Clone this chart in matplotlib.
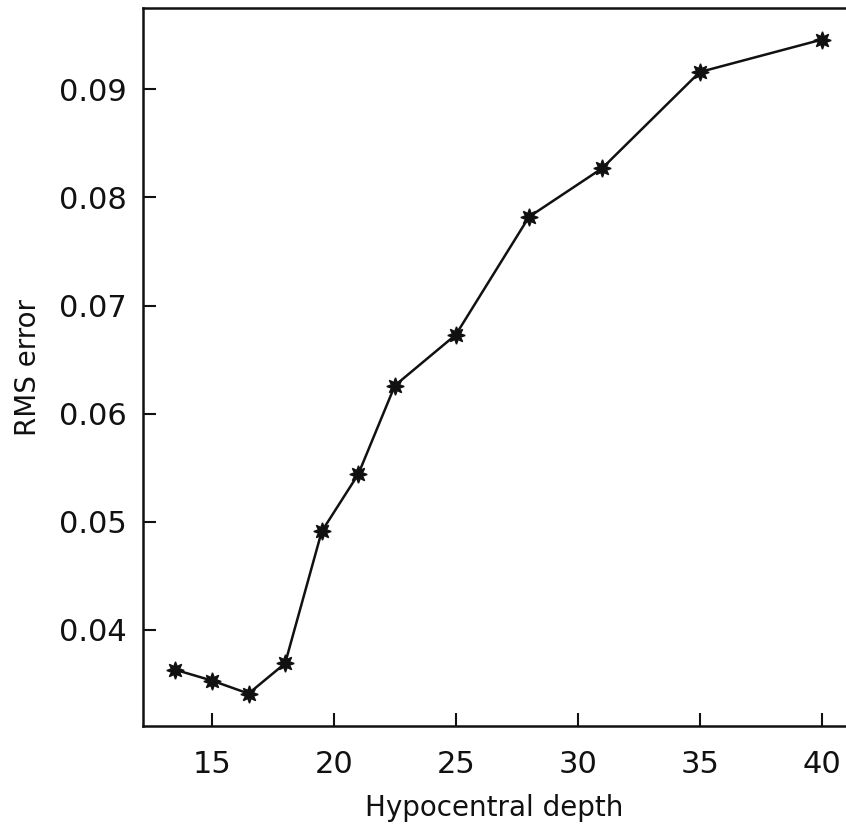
import numpy as np
import matplotlib.pyplot as plt

# hypocentral depth vs rms error
depth = [13.5, 15, 16.5, 18, 19.5, 21, 22.5, 25, 28, 31, 35, 40]
rms = [0.0363, 0.0353, 0.0341, 0.0369, 0.0491, 0.0544, 0.0626,
       0.0673, 0.0782, 0.0827, 0.0916, 0.0946]

xticks = [15, 20, 25, 30, 35, 40]
yticks = [0.04, 0.05, 0.06, 0.07, 0.08, 0.09]

fig = plt.figure(figsize=(8.46, 8.30), dpi=100)
ax = fig.add_axes([0.169, 0.1253, 0.831, 0.8647])

ax.plot(depth, rms, color='#111111', lw=1.8, marker=(8, 1, 0),
        markersize=12.5, markerfacecolor='#111111', markeredgecolor='#111111')

ax.set_xlim(12.17, 41.0)
ax.set_ylim(0.0311, 0.0975)
ax.set_xticks(xticks)
ax.set_xticklabels([str(t) for t in xticks])
ax.set_yticks(yticks)
ax.set_yticklabels(['%.2f' % t for t in yticks])

ax.tick_params(direction='in', length=9.5, width=1.5, labelsize=22,
               colors='#111111')
ax.tick_params(axis='x', pad=17)
ax.tick_params(axis='y', pad=11.5)

for s in ['left', 'bottom', 'top']:
    ax.spines[s].set_linewidth(1.8)
    ax.spines[s].set_color('#111111')
ax.spines['right'].set_visible(False)

ax.set_xlabel('Hypocentral depth', fontsize=20, color='#111111', labelpad=11)
ax.set_ylabel('RMS error', fontsize=20, color='#111111', labelpad=12)

fig.savefig('out.png', dpi=100)
